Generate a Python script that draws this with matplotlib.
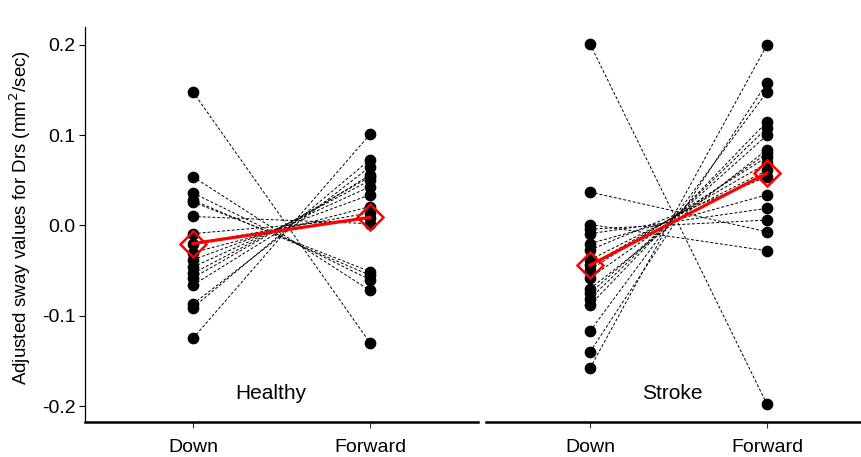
import matplotlib
matplotlib.use("Agg")
import matplotlib.pyplot as plt

plt.rcParams['font.family'] = ['Liberation Sans', 'DejaVu Sans']

conditions = ["Down", "Forward"]
groups = ["Healthy", "Stroke"]

# Healthy: Down / Forward per subject (paired)
healthy_down = [0.148, 0.054, 0.036, 0.028, 0.026, 0.010, -0.009, -0.020, -0.030,
                -0.038, -0.046, -0.053, -0.058, -0.066, -0.087, -0.091, -0.125]
healthy_fwd = [-0.130, -0.072, -0.060, -0.055, -0.051, 0.002, 0.008, 0.014, 0.021,
               0.034, 0.043, 0.050, 0.054, 0.056, 0.065, 0.073, 0.101]
healthy_mean = [-0.020, 0.009]

# Stroke
stroke_down = [0.201, 0.037, 0.001, -0.004, -0.009, -0.020, -0.027, -0.038, -0.044,
               -0.049, -0.058, -0.070, -0.075, -0.081, -0.088, -0.117, -0.140, -0.158]
stroke_fwd = [-0.198, -0.007, -0.028, 0.006, 0.019, 0.034, 0.054, 0.061, 0.069,
              0.076, 0.080, 0.084, 0.100, 0.108, 0.115, 0.148, 0.158, 0.200]
stroke_mean = [-0.044, 0.058]

yticks = [0.2, 0.1, 0.0, -0.1, -0.2]
ytick_labels = ["0.2", "0.1", "0.0", "-0.1", "-0.2"]

fig = plt.figure(figsize=(8.62, 4.57), dpi=100)
W, H = 862, 457
bottom = (H - 422) / H
height = (422 - 27) / H
ax1 = fig.add_axes([85 / W, bottom, (478 - 85) / W, height])
ax2 = fig.add_axes([486 / W, bottom, (862 - 486) / W, height])

# axis, down, forward, mean, label, xlim, label x (data)
panels = [
    (ax1, healthy_down, healthy_fwd, healthy_mean, groups[0], (-0.61, 1.61), 0.44),
    (ax2, stroke_down, stroke_fwd, stroke_mean, groups[1], (-0.588, 1.537), 0.463),
]

for ax, d, f, m, name, xl, tx in panels:
    for a, b in zip(d, f):
        ax.plot([0, 1], [a, b], color="black", lw=0.7, ls=(0, (3, 2)), zorder=1)
    ax.scatter([0] * len(d), d, s=55, color="black", zorder=2)
    ax.scatter([1] * len(f), f, s=55, color="black", zorder=2)
    ax.plot([0, 1], m, color="red", lw=2.3, zorder=3)
    ax.plot([0, 1], m, ls="none", marker="D", ms=13, mfc="none", mec="red",
            mew=1.8, zorder=4)
    ax.set_xlim(*xl)
    ax.set_ylim(-0.2177, 0.2199)
    ax.set_xticks([0, 1])
    ax.set_xticklabels(conditions, fontsize=14)
    ax.tick_params(axis="x", length=4, width=0.8, pad=8, colors="#333333",
                   labelcolor="black")
    ax.text(tx, -0.1856, name, ha="center", va="center", fontsize=15)
    for s in ["top", "right"]:
        ax.spines[s].set_visible(False)
    ax.spines["bottom"].set_linewidth(1.8)

ax1.set_yticks(yticks)
ax1.set_yticklabels(ytick_labels, fontsize=14)
ax1.tick_params(axis="y", length=4, width=0.8, pad=3)
ax1.spines["left"].set_linewidth(0.9)

ax2.spines["left"].set_visible(False)
ax2.set_yticks([])

fig.text(20 / W, 1 - 217 / H, "Adjusted sway values for Drs (mm$^2$/sec)",
         rotation=90, ha="center", va="center", fontsize=13.5)

fig.savefig("out.png", dpi=100)
